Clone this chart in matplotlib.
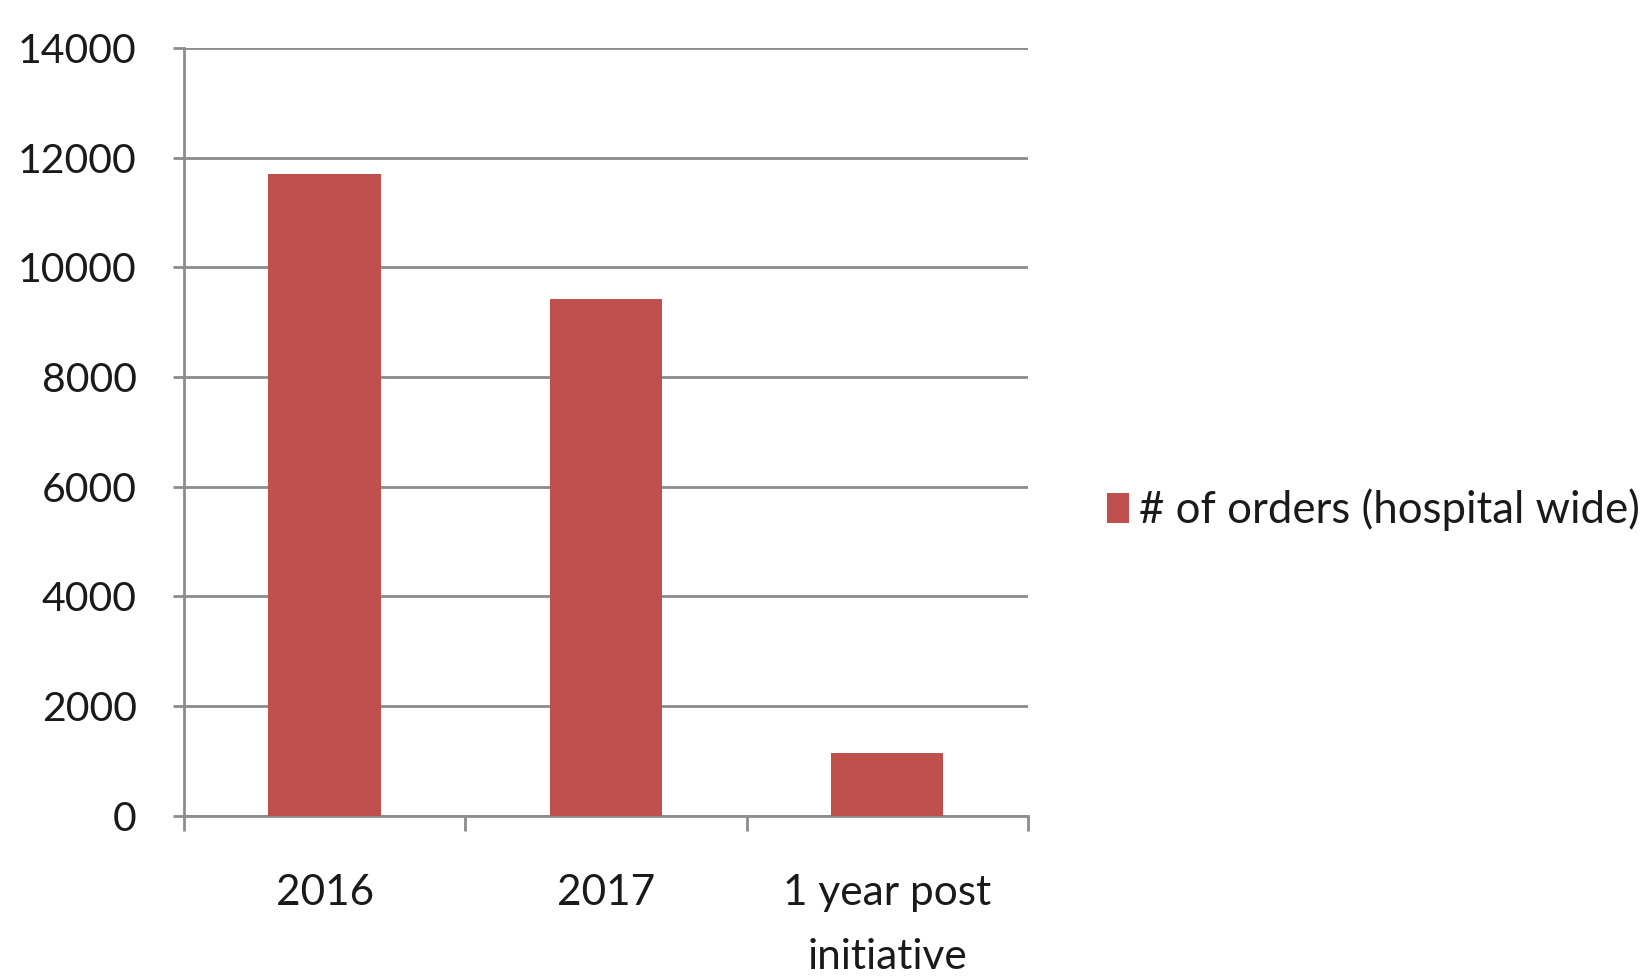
import matplotlib
matplotlib.use("Agg")
import matplotlib.pyplot as plt
from matplotlib.ticker import FixedLocator

categories = ["2016", "2017", "1 year post\ninitiative"]
orders = [11700, 9430, 1150]
series_name = "# of orders (hospital wide)"
y_ticks = [0, 2000, 4000, 6000, 8000, 10000, 12000, 14000]

plt.rcParams["font.family"] = ["Lato", "DejaVu Sans"]

bar_color = "#C0504D"
axis_gray = "#8C8C8C"
text_color = "#1A1A1A"

fig = plt.figure(figsize=(16.42, 9.77), dpi=100)
ax = fig.add_axes([0.112, 0.165, 0.514, 0.786])

x = list(range(len(categories)))
ax.bar(x, orders, width=0.4, color=bar_color, label=series_name, zorder=3)

ax.set_xlim(-0.5, len(categories) - 0.5)
ax.set_ylim(0, 14000)
ax.set_yticks(y_ticks)
ax.set_yticklabels([str(v) for v in y_ticks])
ax.yaxis.grid(True, color=axis_gray, linewidth=2.0, zorder=0)
ax.set_axisbelow(True)

ax.set_xticks(x)
ax.set_xticklabels(categories, linespacing=1.82)
ax.xaxis.set_minor_locator(FixedLocator([i - 0.5 for i in range(len(categories) + 1)]))
ax.tick_params(axis="x", which="major", length=0, pad=42, labelsize=30.5, colors=text_color)
ax.tick_params(axis="x", which="minor", length=11, width=2.0, color=axis_gray)
ax.tick_params(axis="y", which="major", length=8, width=2.0, color=axis_gray,
               pad=26, labelsize=29.5, labelcolor=text_color)

for side in ("top", "right"):
    ax.spines[side].set_visible(False)
for side in ("left", "bottom"):
    ax.spines[side].set_color(axis_gray)
    ax.spines[side].set_linewidth(2.0)

fig.legend(loc="center left", bbox_to_anchor=(0.650, 0.478), frameon=False,
           fontsize=31.5, handlelength=0.5, handleheight=0.7, handletextpad=0.25,
           labelcolor=text_color)

fig.savefig("out.png", dpi=100, facecolor="white")
